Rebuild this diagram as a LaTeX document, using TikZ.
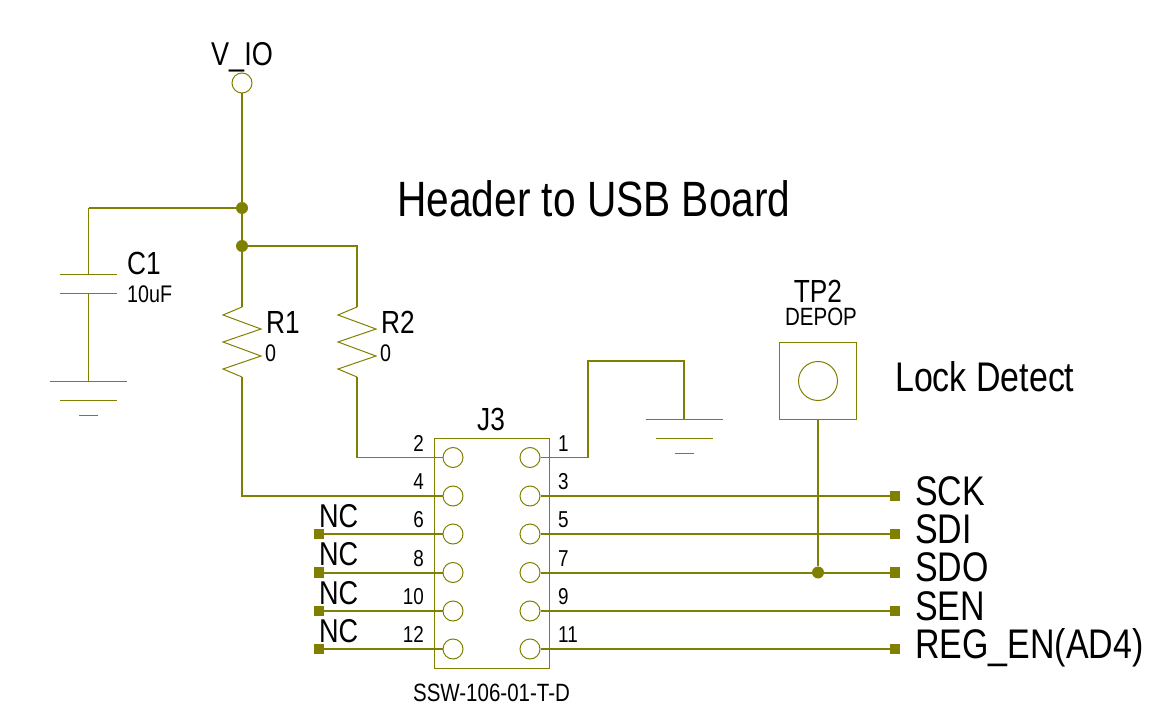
\documentclass[tikz,border=0pt]{standalone}
\usepackage{fontspec}
\setmainfont[FakeStretch=0.82]{Liberation Sans}
\definecolor{netcol}{HTML}{808000}
\newcommand{\sz}[1]{\fontsize{#1}{#1}\selectfont}
\tikzset{
  wire/.style={draw=netcol,line width=1.2pt},
  midwire/.style={draw=netcol,line width=2pt},
  bus/.style={draw=netcol,line width=2.4pt},
  part/.style={draw=netcol,line width=1pt},
  pin/.style={draw=netcol,line width=1pt,circle,minimum size=20pt,inner sep=0pt},
  dot/.style={fill=netcol,circle,minimum size=12pt,inner sep=0pt},
  endpad/.style={fill=netcol,rectangle,minimum size=10.5pt,inner sep=0pt},
  lbl/.style={inner sep=0pt,anchor=base west,text=black},
  lblc/.style={inner sep=0pt,anchor=base,text=black}
}
\begin{document}
\begin{tikzpicture}[x=1pt,y=-1pt]
    \useasboundingbox (0,0) rectangle (1175,719);

    % Texts
    \node[lbl,font=\sz{49.6}] (title) at (397,217) {Header to USB Board};
    \node[lbl,font=\sz{41.4}] (lock) at (895,391) {Lock Detect};
    \node[lblc,font=\sz{33}] (vioname) at (242,66) {V\_IO};
    \node[lbl,font=\sz{32}] (c1name) at (127,275) {C1};
    \node[lbl,font=\sz{24}] (c1val) at (127,302) {10uF};
    \node[lbl,font=\sz{32}] (r1name) at (266,333) {R1};
    \node[lbl,font=\sz{24}] (r1val) at (265,361) {0};
    \node[lbl,font=\sz{32}] (r2name) at (381,333) {R2};
    \node[lbl,font=\sz{24}] (r2val) at (380,361) {0};
    \node[lblc,font=\sz{32}] (j3name) at (491,430) {J3};
    \node[lblc,font=\sz{25}] (j3val) at (491.5,701) {SSW-106-01-T-D};
    \node[lblc,font=\sz{32}] (tpname) at (818,302) {TP2};
    \node[lblc,font=\sz{25}] (tpval) at (821,326) {DEPOP};

    % Connector J3
    \draw[part] (434,438) rectangle (549.5,668);
    \foreach \n/\l/\r/\y in {1/2/1/457.5,2/4/3/496,3/6/5/534,4/8/7/572.5,5/10/9/611,6/12/11/649} {
      \node[pin] (p\l) at (453,\y) {};
      \node[pin] (p\r) at (530,\y) {};
      \node[inner sep=0pt,anchor=base east,font=\sz{23}] (n\l) at (424,\y+-6.5) {\l};
      \node[lbl,font=\sz{23}] (n\r) at (558,\y+-6.5) {\r};
    }

    % Pads on the left
    \foreach \l/\w in {6/midwire,8/midwire,10/bus,12/wire} {
      \path (p\l) ++(-134,0) node[endpad] (nc\l) {};
      \path (nc\l) ++(0,-7) node[lbl,font=\sz{33}] (nct\l) {NC};
      \draw[\w] (p\l) -- (nc\l);
    }

    % Pads on the right
    \foreach \r/\name/\w in {3/SCK/bus,5/SDI/midwire,7/SDO/midwire,9/SEN/bus,11/REG\_EN(AD4)/wire} {
      \path (p\r) ++(365,0) node[endpad] (pad\r) {};
      \path (pad\r) ++(20,9) node[lbl,font=\sz{41.4}] (sig\r) {\name};
      \draw[\w] (p\r) -- (pad\r);
    }

    % Supply
    \node[part,circle,minimum size=20pt,inner sep=0pt] (vio) at (242,83) {};
    \node[dot] (j1) at (242,208) {};
    \node[dot] (j2) at (242,246) {};
    \coordinate (r1t) at (242,307);
    \coordinate (r1b) at (242,377);
    \coordinate (r2t) at (357,307);
    \coordinate (r2b) at (357,377);
    \coordinate (c1corner) at (88.5,208);
    \coordinate (c1t) at (88.5,275);
    \coordinate (c1b) at (88.5,294);
    \coordinate (gnd1) at (88.5,381);
    \coordinate (gnd2) at (684,419);
    \draw[bus] (vio) -- (j1);
    \draw[bus] (j1) -- (j2);
    \draw[bus] (j2) -- (r1t);
    \draw[bus] (j1) -- (c1corner);
    \draw[wire] (c1corner) -- (c1t);
    \draw[wire] (j2) -| (r2t);
    \draw[bus] (r1b) |- (p4);
    \draw[wire] (r2b) |- (p2);
    \draw[wire] (c1b) -- (gnd1);
    \draw[wire] (p1) -| (588,361) -| (gnd2);

    % Resistors
    \foreach \r in {r1,r2} {
      \draw[part] (\r t) -- ++(-19,8) -- ++(38,14) -- ++(-38,13) -- ++(38,14) -- ++(-38,13) -- (\r b);
    }

    % C1 plates
    \draw[part] (c1t) ++(-28.5,0) -- ++(57,0);
    \draw[part] (c1b) ++(-28.5,0) -- ++(57,0);

    % Ground symbols
    \foreach \g in {gnd1,gnd2} {
      \draw[part] (\g) ++(-38.5,0) -- ++(77,0);
      \draw[part] (\g) ++(-28.5,19) -- ++(57,0);
      \draw[part] (\g) ++(-9.5,34) -- ++(19,0);
    }

    % Test point
    \node[part,rectangle,minimum size=77pt,inner sep=0pt] (tp) at (818,380.5) {};
    \node[part,circle,minimum size=39pt,inner sep=0pt] (tphole) at (818,381) {};
    \node[dot] (j3) at (818,572.5) {};
    \draw[bus] (tp) -- (j3);

  \end{tikzpicture}
\end{document}
